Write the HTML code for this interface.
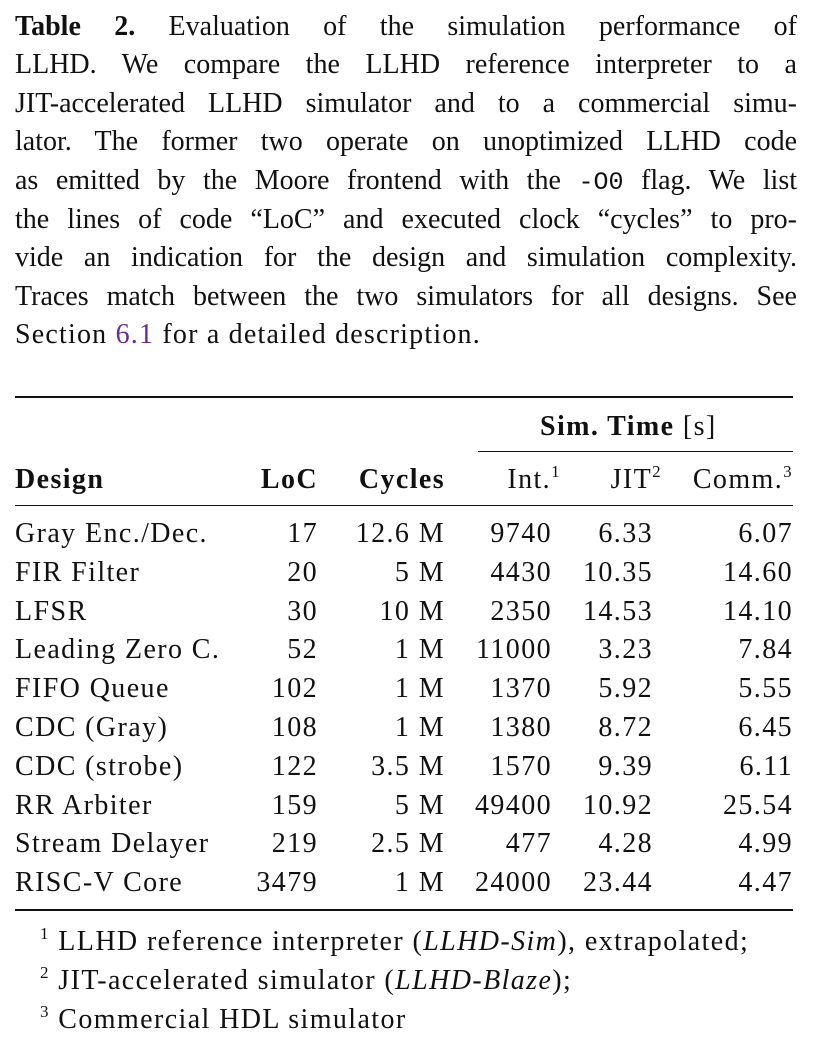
<!DOCTYPE html>
<html><head><meta charset="utf-8"><style>
body{margin:0;width:813px;height:1044px;background:#fff;font-family:"Liberation Serif","DejaVu Serif",serif;color:#111;position:relative;overflow:hidden}
.cl{position:absolute;left:15px;width:782px;font-size:28px;line-height:38px;text-align:justify;text-align-last:justify;white-space:nowrap}
.cl.last{text-align-last:left;letter-spacing:1.2px}
.t{position:absolute;font-size:28px;line-height:38px;white-space:nowrap;letter-spacing:1.4px}
.r{text-align:right}
.rule{position:absolute;background:#111}
.mono{font-family:"Liberation Mono",monospace;font-size:25px}
sup{font-size:17px;vertical-align:0;position:relative;top:-11px}
a{color:#6b2b8a;text-decoration:none}
</style></head><body>
<div>
<div class="cl" style="top:8px"><b>Table 2.</b> Evaluation of the simulation performance of</div>
<div class="cl" style="top:46px">LLHD. We compare the LLHD reference interpreter to a</div>
<div class="cl" style="top:85px">JIT-accelerated LLHD simulator and to a commercial simu-</div>
<div class="cl" style="top:123px">lator. The former two operate on unoptimized LLHD code</div>
<div class="cl" style="top:162px">as emitted by the Moore frontend with the <span class="mono">-O0</span> flag. We list</div>
<div class="cl" style="top:201px">the lines of code “LoC” and executed clock “cycles” to pro-</div>
<div class="cl" style="top:239px">vide an indication for the design and simulation complexity.</div>
<div class="cl" style="top:278px">Traces match between the two simulators for all designs. See</div>
<div class="cl last" style="top:316px">Section <a>6.1</a> for a detailed description.</div>
</div>
<div class="rule" style="left:15px;top:396px;width:778px;height:2px"></div>
<div class="t" style="left:540px;top:408px"><b>Sim. Time</b> [s]</div>
<div class="rule" style="left:478px;top:451px;width:315px;height:1px"></div>
<div>
<div class="t" style="left:15px;top:461px"><b>Design</b></div>
<div class="t r" style="right:495px;top:461px"><b>LoC</b></div>
<div class="t r" style="right:368px;top:461px"><b>Cycles</b></div>
<div class="t r" style="right:252px;top:461px">Int.<sup>1</sup></div>
<div class="t r" style="right:151px;top:461px">JIT<sup>2</sup></div>
<div class="t r" style="right:20px;top:461px">Comm.<sup>3</sup></div>
</div>
<div class="rule" style="left:15px;top:505px;width:778px;height:1px"></div>
<div id="rows"></div>
<div class="rule" style="left:15px;top:909px;width:778px;height:2px"></div>
<div>
<div class="t" style="left:40px;top:923px"><sup>1</sup> LLHD reference interpreter (<i>LLHD-Sim</i>), extrapolated;</div>
<div class="t" style="left:40px;top:962px"><sup>2</sup> JIT-accelerated simulator (<i>LLHD-Blaze</i>);</div>
<div class="t" style="left:40px;top:1001px"><sup>3</sup> Commercial HDL simulator</div>
</div>
<script>
const designs=["Gray Enc./Dec.","FIR Filter","LFSR","Leading Zero C.","FIFO Queue","CDC (Gray)","CDC (strobe)","RR Arbiter","Stream Delayer","RISC-V Core"];
const loc=["17","20","30","52","102","108","122","159","219","3479"];
const cycles=["12.6 M","5 M","10 M","1 M","1 M","1 M","3.5 M","5 M","2.5 M","1 M"];
const intT=["9740","4430","2350","11000","1370","1380","1570","49400","477","24000"];
const jitT=["6.33","10.35","14.53","3.23","5.92","8.72","9.39","10.92","4.28","23.44"];
const commT=["6.07","14.60","14.10","7.84","5.55","6.45","6.11","25.54","4.99","4.47"];
const host=document.getElementById('rows');
designs.forEach((d,i)=>{
  const top=515+i*38.8;
  const row=document.createElement('div');
  
  
  const cells=[[d,'left:15px'],[loc[i],'right:495px'],[cycles[i],'right:368px'],[intT[i],'right:261px'],[jitT[i],'right:160px'],[commT[i],'right:20px']];
  cells.forEach(c=>{
    const e=document.createElement('div');
    
    
    e.className='t'+(c[1].startsWith('right')?' r':'');
    e.style.cssText=c[1]+';top:'+top+'px';
    e.textContent=c[0];
    row.appendChild(e);
  });
  host.appendChild(row);
});
</script>
</body></html>
